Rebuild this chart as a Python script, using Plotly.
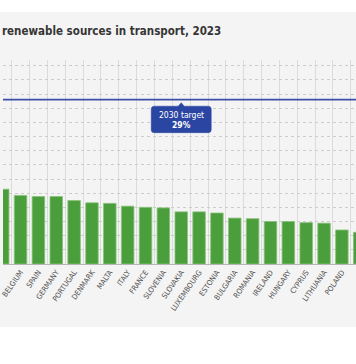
import plotly.graph_objects as go

categories = ["AUSTRIA", "BELGIUM", "SPAIN", "GERMANY", "PORTUGAL", "DENMARK", "MALTA",
              "ITALY", "FRANCE", "SLOVENIA", "SLOVAKIA", "LUXEMBOURG", "ESTONIA",
              "BULGARIA", "ROMANIA", "IRELAND", "HUNGARY", "CYPRUS", "LITHUANIA",
              "POLAND", "CZECHIA"]
values = [13.2, 12.1, 11.9, 11.9, 11.2, 10.8, 10.7, 10.2, 10.0, 9.9, 9.2, 9.2, 9.0,
          8.1, 8.0, 7.5, 7.5, 7.3, 7.2, 6.0, 5.6]
target_value = 29
target_label = ["2030 target", "29%"]
title_text = "renewable sources in transport, 2023"
y_grid_step = 2.5

FONT = "DejaVu Sans Condensed, Liberation Sans Narrow, sans-serif"
PANEL = "#f4f4f4"
BLUE = "#2b45a3"

fig = go.Figure()
fig.add_trace(go.Bar(
    x=categories, y=values,
    marker=dict(color="#4b9e3c", line=dict(color="#86c277", width=0.8)),
    hoverinfo="x+y",
))

H_PLOT = 204.0  # plot area height in px (60 .. 264)

def py(px_from_top):
    return (264 - px_from_top) / H_PLOT

shapes = [
    dict(type="rect", xref="paper", yref="paper", x0=-0.01, x1=1.01,
         y0=py(327), y1=py(12), fillcolor=PANEL, line=dict(width=0), layer="below"),
    dict(type="line", xref="paper", yref="y", x0=0, x1=1, y0=target_value, y1=target_value,
         line=dict(color="#3c4fa8", width=1.6), layer="above"),
    dict(type="path", xref="x", yref="y", xsizemode="pixel", ysizemode="pixel",
         xanchor=10, yanchor=target_value,
         path=("M -27,-6.5 L -3,-6.5 L 0,-3 L 3,-6.5 L 27,-6.5 "
               "Q 30,-6.5 30,-9.5 L 30,-30 Q 30,-33 27,-33 "
               "L -27,-33 Q -30,-33 -30,-30 L -30,-9.5 Q -30,-6.5 -27,-6.5 Z"),
         fillcolor=BLUE, line=dict(color=BLUE, width=0.5), layer="above"),
]

annotations = [
    dict(text=f"<b>{title_text}</b>", xref="paper", yref="paper", x=0, y=py(31),
         xanchor="left", yanchor="middle", showarrow=False, xshift=-3,
         font=dict(family=FONT, size=11.5, color="#363636")),
    dict(text=target_label[0], xref="x", yref="y", x=10, y=target_value, yshift=-15,
         xanchor="center", yanchor="middle", showarrow=False,
         font=dict(family=FONT, size=8.5, color="white")),
    dict(text=f"<b>{target_label[1]}</b>", xref="x", yref="y", x=10, y=target_value, yshift=-25,
         xanchor="center", yanchor="middle", showarrow=False,
         font=dict(family=FONT, size=8.5, color="white")),
]

fig.update_layout(
    width=356, height=364,
    margin=dict(l=0, r=0, t=60, b=100, pad=0),
    paper_bgcolor="white", plot_bgcolor=PANEL,
    bargap=0.3, showlegend=False,
    shapes=shapes, annotations=annotations,
    font=dict(family=FONT),
)
fig.update_xaxes(
    type="category", range=[0.017, 19.79], tickson="boundaries",
    showgrid=True, gridcolor="#dbdbdb", gridwidth=1,
    tickangle=-55, tickfont=dict(family=FONT, size=7.5, color="#505050"),
    ticks="", showline=True, linecolor="#b5b5b5", linewidth=1,
    fixedrange=True,
)
fig.update_yaxes(
    range=[0, 36], dtick=y_grid_step, showticklabels=False, ticks="",
    showgrid=True, gridcolor="#cdcdcd", griddash="dot", gridwidth=1,
    zeroline=False, fixedrange=True,
)

fig.write_html("out.html", config={"displayModeBar": False},
               post_script="document.body.style.margin='0';document.body.style.overflow='hidden';")
